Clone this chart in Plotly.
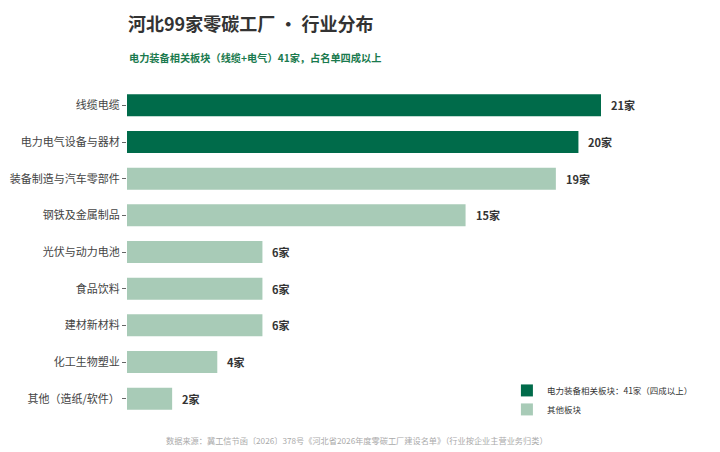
import plotly.graph_objects as go

categories = ["线缆电缆", "电力电气设备与器材", "装备制造与汽车零部件", "钢铁及金属制品",
              "光伏与动力电池", "食品饮料", "建材新材料", "化工生物塑业", "其他（造纸/软件）"]
values = [21, 20, 19, 15, 6, 6, 6, 4, 2]
groups = ["power", "power", "other", "other", "other", "other", "other", "other", "other"]
group_names = {"power": "电力装备相关板块：41家（四成以上）", "other": "其他板块"}
group_colors = {"power": "#006B4A", "other": "#A8CBB7"}

title = "河北99家零碳工厂 · 行业分布"
subtitle = "电力装备相关板块（线缆+电气）41家，占名单四成以上"
source = "数据来源：冀工信节函〔2026〕378号《河北省2026年度零碳工厂建设名单》（行业按企业主营业务归类）"

FONT = "Noto Sans CJK SC"
fig = go.Figure()
for g in ["power", "other"]:
    ys = [c for c, gg in zip(categories, groups) if gg == g]
    xs = [v for v, gg in zip(values, groups) if gg == g]
    fig.add_trace(go.Bar(
        x=xs, y=ys, orientation="h", name=group_names[g],
        marker=dict(color=group_colors[g], line=dict(width=0)),
        width=0.6, hoverinfo="x+y",
    ))

for c, v in zip(categories, values):
    fig.add_annotation(x=v, y=c, text=f"<b>{v}家</b>", showarrow=False,
                       xanchor="left", xshift=8, font=dict(family=FONT, size=11, color="#333333"))

fig.add_annotation(xref="paper", yref="paper", x=0, y=1, yshift=78, xanchor="left", yanchor="top",
                   borderpad=0, text=f"<b>{title}</b>", showarrow=False,
                   font=dict(family=FONT, size=18, color="#333333"))
fig.add_annotation(xref="paper", yref="paper", x=0, y=1, yshift=30, xanchor="left", yanchor="middle",
                   text=f"<b>{subtitle}</b>", showarrow=False, font=dict(family=FONT, size=10.2, color="#1A7A4E"))
fig.add_annotation(xref="paper", yref="paper", x=0.416, y=0, yshift=-23, xanchor="center", yanchor="middle",
                   text=source, showarrow=False, font=dict(family=FONT, size=8.2, color="#AAAAAA"))

fig.update_layout(
    width=712, height=444,
    margin=dict(l=119, r=40, t=79, b=35, autoexpand=False),
    paper_bgcolor="white", plot_bgcolor="white",
    font=dict(family=FONT, size=11, color="#444444"),
    barmode="overlay",
    showlegend=True,
    legend=dict(x=0.687, y=-0.021, xanchor="left", yanchor="bottom", bgcolor="rgba(0,0,0,0)",
                font=dict(family=FONT, size=8.5, color="#333333"), itemwidth=30, tracegroupgap=0,
                traceorder="normal"),
    xaxis=dict(range=[0, 24.5], showgrid=False, zeroline=False, showticklabels=False,
               showline=False, ticks="", automargin=False),
    yaxis=dict(categoryorder="array", categoryarray=categories, autorange="reversed",
               showgrid=False, zeroline=False, showline=False, ticks="outside", ticklen=4,
               automargin=False,
               tickcolor="#666666", tickfont=dict(family=FONT, size=11, color="#444444")),
)
fig.write_html("out.html")
